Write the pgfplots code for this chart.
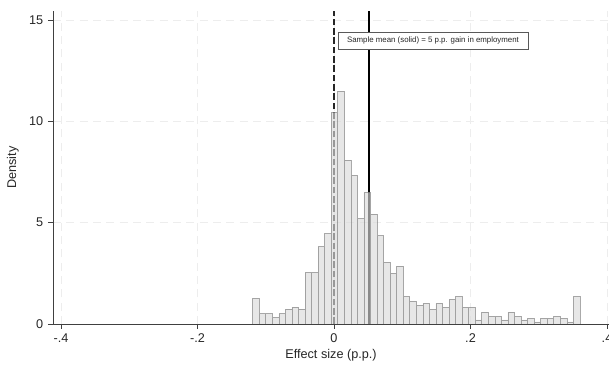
\documentclass[border=0pt]{standalone}
\usepackage{pgfplots}
\pgfplotsset{compat=1.18}
\usepackage{fontspec}
\setmainfont{Liberation Sans}
\begin{document}
\begin{tikzpicture}
\begin{axis}[
  scale only axis, width=417pt, height=234.75pt,
  xmin=-0.4117, xmax=0.4029, ymin=0, ymax=15.44,
  axis x line*=bottom, axis y line*=left,
  xtick={-0.4,-0.2,0,0.2,0.4}, xticklabels={-.4,-.2,0,.2,.4},
  ytick={0,5,10,15},
  grid=major,
  major grid style={black!7, line width=0.5pt, dash pattern=on 6pt off 4pt},
  tick align=outside, major tick length=3.75pt,
  tick style={black!75, line width=0.6pt},
  axis line style={black!75, line width=0.6pt},
  /pgf/number format/assume math mode=true,
  tick label style={font=\fontsize{9.5}{11}\selectfont, text=black!85},
  label style={font=\fontsize{9.5}{11}\selectfont, text=black!85},
  xlabel={Effect size (p.p.)}, ylabel={Density},
  xlabel style={at={(axis description cs:0.5,-0.099)}, anchor=center},
  ylabel style={at={(axis description cs:-0.072,0.5)}, anchor=center},
  clip=true,
]
\addplot[black!85, line width=1.1pt, dash pattern=on 5pt off 2pt] coordinates {(0,0) (0,15.44)};
\addplot[black, line width=2pt] coordinates {(0.0513,0) (0.0513,15.44)};
\addplot[ybar interval, fill=black!15, draw=black!52, fill opacity=0.64, draw opacity=0.64, line width=0.6pt] coordinates {
(-0.1191,1.26) (-0.1095,0.50) (-0.0999,0.50) (-0.0903,0.31) (-0.0807,0.50)
(-0.0712,0.73) (-0.0616,0.83) (-0.0520,0.73) (-0.0424,2.54) (-0.0328,2.54)
(-0.0232,3.81) (-0.0136,4.45) (-0.0040,10.43) (0.0056,11.49) (0.0152,8.08)
(0.0248,7.33) (0.0343,5.19) (0.0439,6.49) (0.0535,5.42) (0.0631,4.35)
(0.0727,3.04) (0.0823,2.50) (0.0919,2.86) (0.1015,1.35) (0.1111,1.12)
(0.1207,0.92) (0.1303,1.02) (0.1398,0.72) (0.1494,1.02) (0.1590,0.82)
(0.1686,1.22) (0.1782,1.35) (0.1878,0.82) (0.1974,0.82) (0.2070,0.20)
(0.2166,0.59) (0.2262,0.38) (0.2358,0.38) (0.2453,0.20) (0.2549,0.59)
(0.2645,0.38) (0.2741,0.20) (0.2837,0.28) (0.2933,0.10) (0.3029,0.28)
(0.3125,0.28) (0.3221,0.38) (0.3317,0.28) (0.3413,0.10) (0.3508,1.35)
(0.3604,1.35)
};
\node[draw=black!65, fill=white, line width=0.6pt, inner sep=0pt,
  minimum width=142.5pt, minimum height=12.5pt,
  font=\fontsize{5.9}{6.8}\selectfont, text=black!85]
  at (axis cs:0.145,13.98) {Sample mean (solid) = 5 p.p. gain in employment};
\end{axis}
\pgfresetboundingbox
\path ([xshift=-39.75pt,yshift=-31.5pt]current axis.south west) rectangle ([yshift=8.25pt]current axis.north east);
\end{tikzpicture}
\end{document}
